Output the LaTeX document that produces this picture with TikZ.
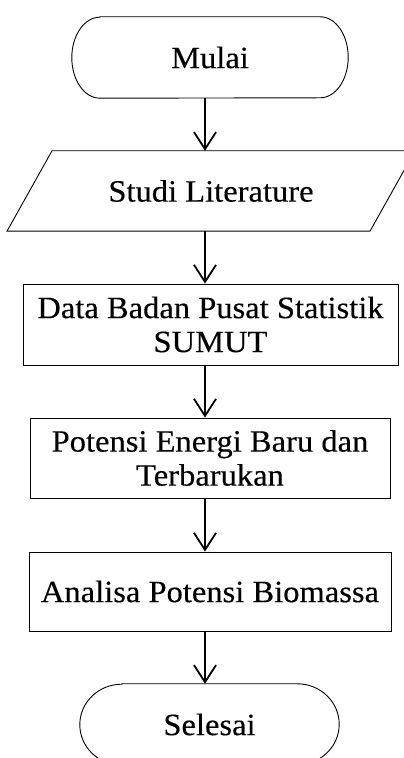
\documentclass[tikz,border=0pt]{standalone}
\usepackage{fontspec}
\setmainfont{Liberation Serif}[FakeStretch=1.05,FakeBold=0.3]
\usetikzlibrary{arrows.meta}
\tikzset{
  txt/.style={font=\fontsize{31}{34}\selectfont, align=center, inner sep=0pt},
  procbox/.style={txt, draw, line width=0.9pt, rectangle},
  ghost/.style={txt, draw=none, rectangle},
  outline/.style={line width=0.9pt},
  arr/.style={line width=1.8pt, -{Straight Barb[length=17pt,width=22pt]}}
}
\begin{document}
\begin{tikzpicture}[x=1pt,y=1pt]
\useasboundingbox (0,0) rectangle (404,758);
\clip (0,0) rectangle (404,758);
\fill[white] (0,0) rectangle (404,758);
\coordinate (ax) at (205,0);
% Start terminator
\node[ghost, minimum width=276pt, minimum height=81pt] (m) at (210,700.5) {Mulai};
\draw[outline] ([xshift=28pt]m.north west) -- ([xshift=-28pt]m.north east)
  arc[start angle=90, end angle=-90, x radius=28pt, y radius=40.5pt]
  -- ([xshift=28pt]m.south west)
  arc[start angle=270, end angle=90, x radius=28pt, y radius=40.5pt] -- cycle;
% Input parallelogram
\node[ghost, minimum width=363pt, minimum height=80pt] (lit) at (211,567) {Studi Literature};
\draw[outline] ([xshift=-159pt]lit.north) -- ([xshift=204pt]lit.north)
  -- ([xshift=159pt]lit.south) -- ([xshift=-204pt]lit.south) -- cycle;
% Process boxes
\node[procbox, minimum width=375pt, minimum height=81pt] (data) at (210.5,433.5) {Data Badan Pusat Statistik\\SUMUT};
\node[procbox, minimum width=360pt, minimum height=80pt] (pot) at (210,300) {Potensi Energi Baru dan\\Terbarukan};
\node[procbox, minimum width=362pt, minimum height=79pt] (ana) at (210,166.5) {Analisa Potensi Biomassa};
% End terminator
\node[ghost, minimum width=259pt, minimum height=81pt] (s) at (209.5,33.5) {Selesai};
\draw[outline] ([xshift=42pt]s.north west) -- ([xshift=-42pt]s.north east)
  arc[start angle=90, end angle=-90, x radius=42pt, y radius=40.5pt]
  -- ([xshift=42pt]s.south west)
  arc[start angle=270, end angle=90, x radius=42pt, y radius=40.5pt] -- cycle;
% Connectors
\draw[arr] (m.south -| ax) -- (lit.north -| ax);
\draw[arr] (lit.south -| ax) -- (data.north -| ax);
\draw[arr] (data.south -| ax) -- (pot.north -| ax);
\draw[arr] (pot.south -| ax) -- (ana.north -| ax);
\draw[arr] (ana.south -| ax) -- (s.north -| ax);
\end{tikzpicture}
\end{document}
